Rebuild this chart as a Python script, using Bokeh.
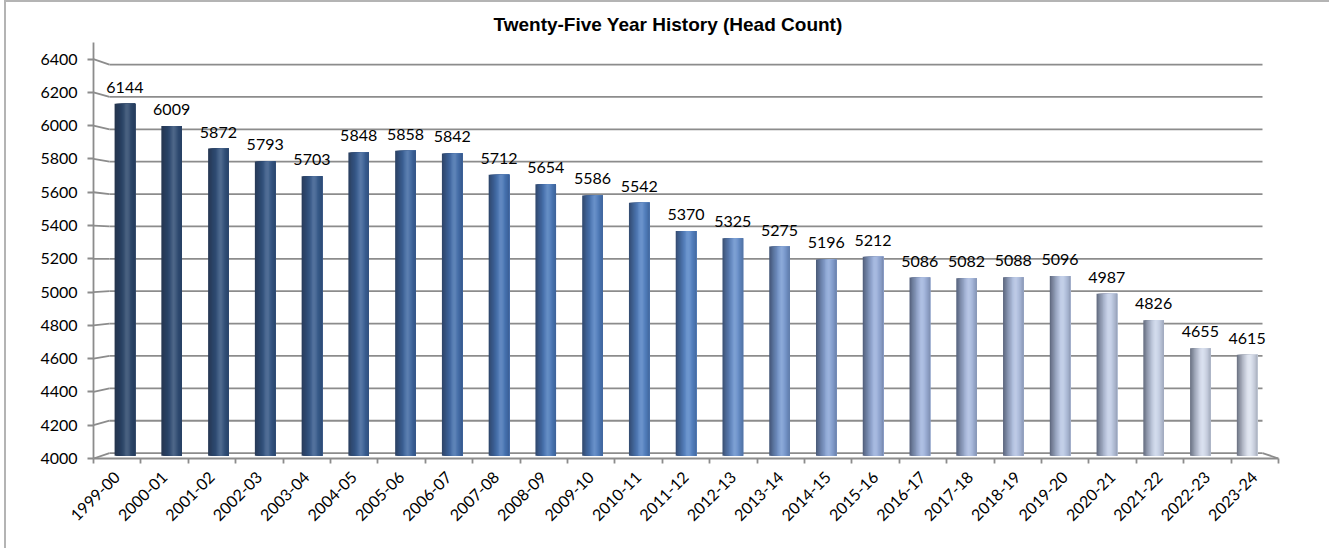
import numpy as np
from bokeh.plotting import figure
from bokeh.models import Range1d, LinearAxis, FixedTicker, Title
from bokeh.core.properties import value
from bokeh.embed import file_html
from bokeh.resources import INLINE

# ---- data -------------------------------------------------------------
years = ["1999-00", "2000-01", "2001-02", "2002-03", "2003-04", "2004-05",
         "2005-06", "2006-07", "2007-08", "2008-09", "2009-10", "2010-11",
         "2011-12", "2012-13", "2013-14", "2014-15", "2015-16", "2016-17",
         "2017-18", "2018-19", "2019-20", "2020-21", "2021-22", "2022-23",
         "2023-24"]
head_count = [6144, 6009, 5872, 5793, 5703, 5848, 5858, 5842, 5712, 5654,
              5586, 5542, 5370, 5325, 5275, 5196, 5212, 5086, 5082, 5088,
              5096, 4987, 4826, 4655, 4615]
y_ticks = [4000, 4200, 4400, 4600, 4800, 5000, 5200, 5400, 5600, 5800,
           6000, 6200, 6400]

# ---- 3-D box geometry -------------------------------------------------
X0, X1 = 0, len(years)
Y0, Y1 = 4000, 6500
CX, CY = X1 / 2, 5200          # vanishing centre in front-plane data units
WALL_S = 0.973                 # scale of the back wall
BAR_S = 0.9865                 # scale of the plane the columns stand in


def depth_range(lo, hi, c, s):
    return Range1d(c + (lo - c) / s, c + (hi - c) / s)


def to_front(v, c, s):
    return c + (v - c) * s


GRID = "#8c8c8c"
FONT = "Lato"
PAD_L = 6   # room taken by the chart-area border on the left

p = figure(width=1331 - PAD_L, height=548,
           x_range=Range1d(X0, X1), y_range=Range1d(Y0, Y1),
           output_backend="svg", toolbar_location=None,
           x_axis_type=None, y_axis_type=None,
           min_border_left=93 - PAD_L, min_border_right=53,
           min_border_top=40, min_border_bottom=92)
p.margin = (0, 0, 0, 4)
p.styles = {"border-left": "2px solid #b4b4b4", "border-top": "2px solid #b4b4b4"}
p.outline_line_color = None
p.background_fill_color = "white"
p.border_fill_color = "white"

p.extra_x_ranges = {"bar": depth_range(X0, X1, CX, BAR_S),
                    "wall": depth_range(X0, X1, CX, WALL_S)}
p.extra_y_ranges = {"bar": depth_range(Y0, Y1, CY, BAR_S),
                    "wall": depth_range(Y0, Y1, CY, WALL_S)}

# title
p.title = Title(text="Twenty-Five Year History (Head Count)", align="left",
                offset=400, standoff=16, text_font="Liberation Sans",
                text_font_size="19px", text_font_style="bold",
                text_color="black")

# back-wall gridlines
p.segment(x0=[X0] * len(y_ticks), x1=[X1] * len(y_ticks), y0=y_ticks, y1=y_ticks,
          x_range_name="wall", y_range_name="wall",
          line_color=GRID, line_width=1.8)

# side-wall connectors from the value axis to the back wall
p.segment(x0=[X0] * len(y_ticks), y0=y_ticks,
          x1=[to_front(X0, CX, WALL_S)] * len(y_ticks),
          y1=[to_front(t, CY, WALL_S) for t in y_ticks],
          line_color=GRID, line_width=1.8)
# right edge of the floor
p.segment(x0=[X1], y0=[Y0], x1=[to_front(X1, CX, WALL_S)],
          y1=[to_front(Y0, CY, WALL_S)], line_color=GRID, line_width=1.8)


# ---- cylinder-shaded columns -----------------------------------------
def hex2rgb(h):
    h = h.lstrip("#")
    return np.array([int(h[i:i + 2], 16) for i in (0, 2, 4)], float)


def rgb2hex(c):
    c = np.clip(np.round(c), 0, 255).astype(int)
    return "#%02x%02x%02x" % tuple(c)


anchor_pos = [0, 4, 8, 12, 16, 20, 24]
anchor_col = ["#284469", "#33588b", "#4473b5", "#5383c6", "#98aedb",
              "#b9c7e4", "#dbe1ee"]
anchor_rgb = np.array([hex2rgb(c) for c in anchor_col])
shadow = hex2rgb("#22293a")
white = np.array([255.0, 255.0, 255.0])

N_STRIP = 16
BAR_W = 0.44
left, right, top, bottom, colors = [], [], [], [], []
for i, v in enumerate(head_count):
    base = np.array([np.interp(i, anchor_pos, anchor_rgb[:, k]) for k in range(3)])
    xc = i + 0.5
    for k in range(N_STRIP):
        t = (k + 0.5) / N_STRIP
        if t < 0.58:
            dark = 0.62 * (1 - t / 0.58) ** 1.4
        else:
            dark = 0.28 * ((t - 0.58) / 0.42) ** 2
        light = 0.16 * np.exp(-((t - 0.6) / 0.16) ** 2)
        c = base * (1 - dark) + shadow * dark
        c = c * (1 - light) + white * light
        # each strip runs to the column's right edge; later strips overlay
        left.append(xc - BAR_W / 2 + BAR_W * k / N_STRIP)
        right.append(xc + BAR_W / 2)
        top.append(v)
        bottom.append(Y0)
        colors.append(rgb2hex(c))

p.quad(left=left, right=right, top=top, bottom=bottom, fill_color=colors,
       line_color=None, x_range_name="bar", y_range_name="bar")

# value labels
p.text(x=[i + 0.5 for i in range(len(years))], y=head_count,
       text=[str(v) for v in head_count], x_range_name="bar", y_range_name="bar",
       text_align="center", text_baseline="bottom", y_offset=-11,
       text_font=value(FONT), text_font_size="16px", text_color="black")

# ---- axes ---------------------------------------------------------------
yaxis = LinearAxis(ticker=FixedTicker(ticks=y_ticks))
yaxis.axis_line_color = GRID
yaxis.axis_line_width = 1.8
yaxis.major_tick_line_color = GRID
yaxis.major_tick_line_width = 1.8
yaxis.major_tick_out = 6
yaxis.major_tick_in = 0
yaxis.minor_tick_line_color = None
yaxis.major_label_standoff = 10
yaxis.major_label_text_font = FONT
yaxis.major_label_text_font_size = "16px"
yaxis.major_label_text_color = "black"
p.add_layout(yaxis, "left")

xaxis = LinearAxis(ticker=FixedTicker(ticks=[i + 0.5 for i in range(len(years))],
                                      minor_ticks=list(range(len(years) + 1))))
xaxis.major_label_overrides = {i + 0.5: y for i, y in enumerate(years)}
xaxis.major_label_orientation = np.pi / 4
xaxis.axis_line_color = GRID
xaxis.axis_line_width = 1.8
xaxis.major_tick_line_color = None
xaxis.minor_tick_line_color = GRID
xaxis.minor_tick_line_width = 1.8
xaxis.minor_tick_out = 5
xaxis.minor_tick_in = 0
xaxis.major_label_standoff = 10
xaxis.major_label_text_font = FONT
xaxis.major_label_text_font_size = "16px"
xaxis.major_label_text_color = "black"
p.add_layout(xaxis, "below")

open("out.html", "w").write(file_html(p, INLINE))
